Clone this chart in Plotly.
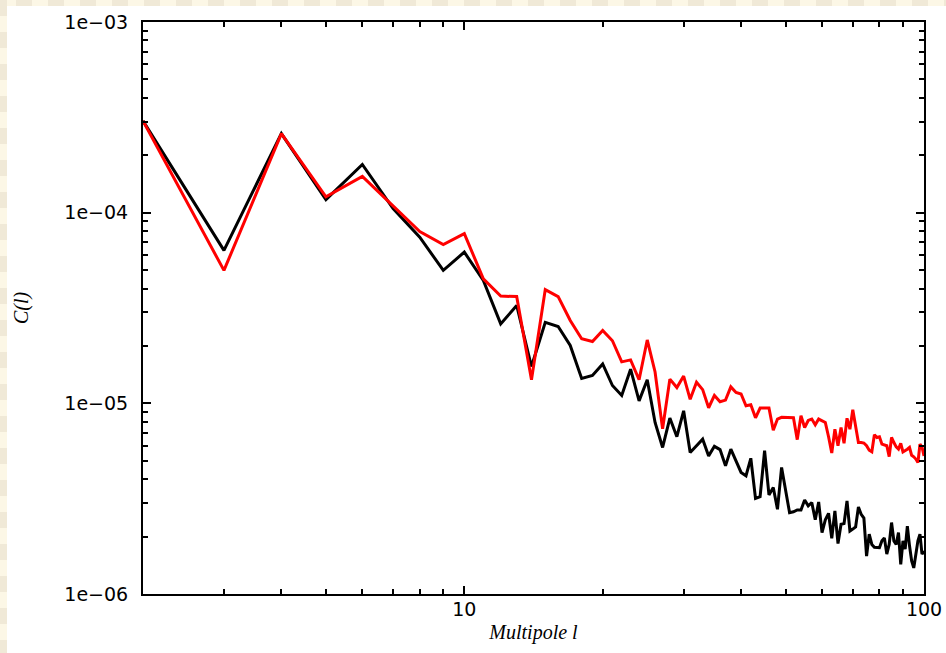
import plotly.graph_objects as go

# Angular power spectrum, multipoles l = 2 .. 100
multipole = list(range(2, 101))

# measured spectrum (black)
cl_data = [
    3.03e-4, 6.34e-5, 2.60e-4, 1.17e-4, 1.79e-4, 1.05e-4, 7.44e-5, 4.98e-5, 6.21e-5,   # 2-10
    4.41e-5, 2.61e-5, 3.26e-5, 1.56e-5, 2.66e-5, 2.53e-5, 2.01e-5, 1.35e-5, 1.40e-5, 1.61e-5,  # 11-20
    1.24e-5, 1.10e-5, 1.51e-5, 1.03e-5, 1.33e-5, 7.94e-6, 5.87e-6, 8.37e-6, 6.68e-6, 9.14e-6,  # 21-30
    5.52e-6, 5.99e-6, 6.49e-6, 5.30e-6, 5.95e-6, 5.72e-6, 4.70e-6, 5.75e-6, 4.99e-6, 4.34e-6,  # 31-40
    4.17e-6, 5.15e-6, 3.17e-6, 3.24e-6, 5.64e-6, 3.31e-6, 3.62e-6, 2.78e-6, 4.61e-6, 3.47e-6,  # 41-50
    2.67e-6, 2.70e-6, 2.76e-6, 2.76e-6, 3.11e-6, 2.90e-6, 3.02e-6, 2.45e-6, 3.04e-6, 2.10e-6,  # 51-60
    2.45e-6, 2.65e-6, 1.96e-6, 2.73e-6, 1.84e-6, 2.32e-6, 2.34e-6, 3.08e-6, 2.14e-6, 2.19e-6,  # 61-70
    2.25e-6, 2.86e-6, 2.62e-6, 2.50e-6, 1.58e-6, 2.06e-6, 1.82e-6, 1.76e-6, 1.75e-6, 1.75e-6,  # 71-80
    1.90e-6, 1.97e-6, 1.62e-6, 1.82e-6, 2.37e-6, 1.90e-6, 1.82e-6, 2.10e-6, 1.43e-6, 1.90e-6,  # 81-90
    1.72e-6, 2.27e-6, 1.79e-6, 1.49e-6, 1.37e-6, 1.62e-6, 1.90e-6, 2.06e-6, 1.62e-6, 1.68e-6,  # 91-100
]

# model / comparison spectrum (red)
cl_model = [
    3.03e-4, 4.98e-5, 2.60e-4, 1.21e-4, 1.55e-4, 1.08e-4, 7.97e-5, 6.81e-5, 7.76e-5,   # 2-10
    4.50e-5, 3.65e-5, 3.63e-5, 1.33e-5, 3.95e-5, 3.63e-5, 2.72e-5, 2.18e-5, 2.11e-5, 2.41e-5,  # 11-20
    2.13e-5, 1.65e-5, 1.69e-5, 1.33e-5, 2.15e-5, 1.46e-5, 7.35e-6, 1.34e-5, 1.21e-5, 1.39e-5,  # 21-30
    1.05e-5, 1.29e-5, 1.18e-5, 9.48e-6, 1.10e-5, 1.02e-5, 1.04e-5, 1.22e-5, 1.14e-5, 1.12e-5,  # 31-40
    9.71e-6, 9.83e-6, 8.40e-6, 9.45e-6, 9.45e-6, 9.45e-6, 7.22e-6, 8.27e-6, 8.45e-6, 8.44e-6,  # 41-50
    8.38e-6, 8.40e-6, 6.45e-6, 8.61e-6, 7.47e-6, 8.13e-6, 8.27e-6, 7.72e-6, 8.27e-6, 8.13e-6,  # 51-60
    7.94e-6, 6.68e-6, 5.49e-6, 7.32e-6, 5.99e-6, 7.47e-6, 6.17e-6, 8.35e-6, 7.32e-6, 9.26e-6,  # 61-70
    7.47e-6, 6.23e-6, 6.23e-6, 6.19e-6, 5.99e-6, 5.68e-6, 5.57e-6, 6.84e-6, 6.62e-6, 6.68e-6,  # 71-80
    6.11e-6, 6.06e-6, 5.99e-6, 5.25e-6, 6.62e-6, 6.23e-6, 5.91e-6, 5.75e-6, 6.17e-6, 5.56e-6,  # 81-90
    5.64e-6, 5.75e-6, 5.87e-6, 5.34e-6, 5.24e-6, 5.10e-6, 4.89e-6, 6.11e-6, 5.91e-6, 5.30e-6,  # 91-100
]

x_major = [10, 100]
x_major_text = ["10", "100"]
x_minor = [3, 4, 5, 6, 7, 8, 9, 20, 30, 40, 50, 60, 70, 80, 90]

y_major = [1e-6, 1e-5, 1e-4, 1e-3]
y_major_text = ["1e\u221206", "1e\u221205", "1e\u221204", "1e\u221203"]
y_minor = [m * 10.0 ** e for e in (-6, -5, -4) for m in range(2, 10)]

W, H = 946, 653
ML, MR, MT, MB = 143, 22, 22, 59

fig = go.Figure()
fig.add_trace(go.Scatter(x=multipole, y=cl_data, mode="lines",
                         line=dict(color="#000000", width=3), showlegend=False))
fig.add_trace(go.Scatter(x=multipole, y=cl_model, mode="lines",
                         line=dict(color="#ff0000", width=3), showlegend=False))

# cream checkered strip along the left and top edges of the page
def px_x(px):
    return (px - ML) / (W - ML - MR)

def px_y(py):
    return (H - MB - py) / (H - MT - MB)

shapes = []
tile = 16
light, dark = "#fcf7e6", "#f0e9d7"
for i, x0 in enumerate(range(0, W, tile)):
    shapes.append(dict(type="rect", xref="paper", yref="paper", layer="below",
                       x0=px_x(x0), x1=px_x(min(x0 + tile, W)), y0=px_y(6), y1=px_y(0),
                       fillcolor=dark if i % 2 else light, line=dict(width=0)))
for j, y0 in enumerate(range(0, H, tile)):
    shapes.append(dict(type="rect", xref="paper", yref="paper", layer="below",
                       x0=px_x(0), x1=px_x(7), y0=px_y(min(y0 + tile, H)), y1=px_y(y0),
                       fillcolor=light if j % 2 else dark, line=dict(width=0)))

tick_font = dict(family="DejaVu Sans", size=19, color="#000000")
title_font = dict(family="Liberation Serif", size=20, color="#000000", style="italic")

fig.update_layout(
    width=W, height=H,
    margin=dict(l=ML, r=MR, t=MT, b=MB, autoexpand=False),
    paper_bgcolor="#ffffff",
    plot_bgcolor="#ffffff",
    shapes=shapes,
    xaxis=dict(
        type="log", range=[0.30103, 2.0], automargin=False,
        tickmode="array", tickvals=x_major, ticktext=x_major_text,
        ticks="inside", ticklen=8, tickwidth=1.5, tickcolor="#000000",
        minor=dict(tickmode="array", tickvals=x_minor, ticks="inside",
                   ticklen=5, tickwidth=1.5, tickcolor="#000000", showgrid=False),
        showline=True, linecolor="#000000", linewidth=2, mirror="allticks",
        showgrid=False, zeroline=False,
        tickfont=tick_font, ticklabelstandoff=-3,
        title=dict(text="Multipole l", font=title_font, standoff=6),
    ),
    yaxis=dict(
        type="log", range=[-6, -3], automargin=False,
        tickmode="array", tickvals=y_major, ticktext=y_major_text,
        ticks="inside", ticklen=8, tickwidth=1.5, tickcolor="#000000",
        minor=dict(tickmode="array", tickvals=y_minor, ticks="inside",
                   ticklen=5, tickwidth=1.5, tickcolor="#000000", showgrid=False),
        showline=True, linecolor="#000000", linewidth=2, mirror="allticks",
        showgrid=False, zeroline=False,
        tickfont=tick_font, ticklabelstandoff=9,
        title=dict(text="C(l)", font=title_font, standoff=30),
    ),
)

fig.write_html("out.html")
